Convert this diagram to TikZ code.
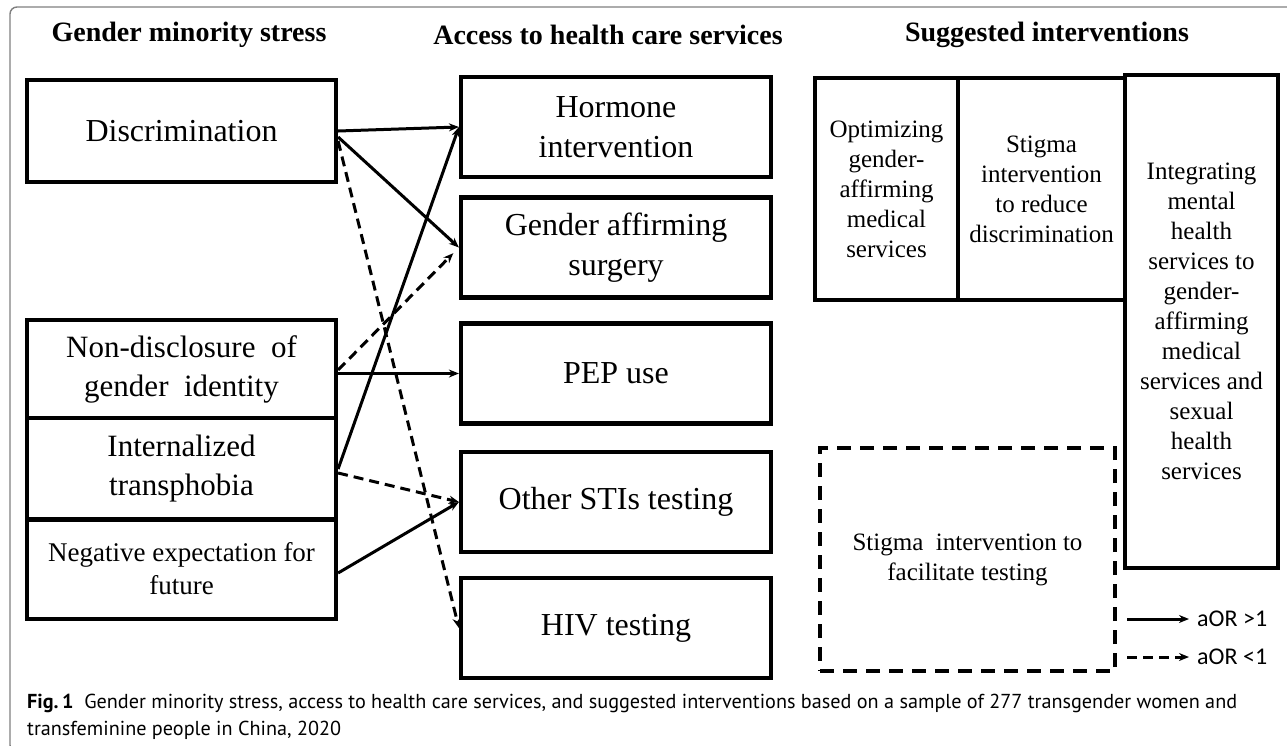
\documentclass[tikz,border=0pt]{standalone}
\usepackage{fontspec}
\setmainfont{Liberation Serif}
\newfontfamily\capfont{PT Sans}
\newfontfamily\keyfont{Carlito}
\usetikzlibrary{arrows.meta}

\begin{document}
\begin{tikzpicture}[x=1pt, y=-1pt,
    every node/.style={inner sep=0pt, align=center},
    stressbox/.style={draw, line width=4.2pt, minimum width=309pt},
    servbox/.style={draw, line width=4.2pt, minimum width=310pt, minimum height=100pt, font=\fontsize{32}{40}\selectfont},
    ivbox/.style={draw, line width=3.6pt, font=\fontsize{25}{30}\selectfont},
    heading/.style={font=\fontsize{28}{32}\selectfont\bfseries},
    keytext/.style={font=\fontsize{24}{28}\selectfont\keyfont},
    aorhigh/.style={-{Stealth[length=10pt,width=8pt]}, line width=3pt},
    aorlow/.style={aorhigh, dash pattern=on 10pt off 6pt}]
  \useasboundingbox (0,0) rectangle (1287,745);
  \draw[black!50, line width=1.4pt, rounded corners=7pt] (1300,7) -- (10,7) -- (10,752) -- (30,752);
  \node[heading] (hstress) at (189,35) {Gender minority stress};
  \node[heading] (haccess) at (608,35) {Access to health care services};
  \node[heading] (hinterv) at (1047,35) {Suggested interventions};
  \node[stressbox, minimum height=102pt, font=\fontsize{32}{39}\selectfont] (disc) at (181.5,131) {Discrimination};
  \node[stressbox, minimum height=98pt, font=\fontsize{31}{39}\selectfont] (nond) at (181.5,369) {Non-disclosure\ \ of\\gender\ \ identity};
  \node[stressbox, minimum height=102pt, font=\fontsize{31}{39}\selectfont] (intl) at (181.5,469) {Internalized\\transphobia};
  \node[stressbox, minimum height=100pt, font=\fontsize{27}{33}\selectfont] (nege) at (181.5,569) {Negative expectation for\\future};
  \node[servbox] (horm) at (616,127) {Hormone\\intervention};
  \node[servbox] (surg) at (616,247.5) {Gender affirming\\surgery};
  \node[servbox] (pep) at (616,373.5) {PEP use};
  \node[servbox] (stis) at (616,502) {Other STIs testing};
  \node[servbox] (hiv) at (616,628) {HIV testing};
  \node[ivbox, minimum width=143pt, minimum height=222pt] (optm) at (886.5,189) {Optimizing\\gender-\\affirming\\medical\\services};
  \node[ivbox, minimum width=167pt, minimum height=222pt] (stig) at (1041.5,189) {Stigma\\intervention\\to reduce\\discrimination};
  \node[ivbox, minimum width=153pt, minimum height=493pt] (intg) at (1201.5,321.5) {Integrating\\mental\\health\\services to\\gender-\\affirming\\medical\\services and\\sexual\\health\\services};
  \node[ivbox, dash pattern=on 14pt off 9pt, minimum width=295pt, minimum height=223pt] (facl) at (967.5,559.5) {Stigma\ \ intervention to\\facilitate testing};
  \draw[aorhigh] (disc.east) -- (horm.west);
  \draw[aorhigh] ([yshift=-6pt]disc.east) -- (surg.west);
  \draw[aorlow] ([yshift=-10pt]disc.east) -- (hiv.west);
  \draw[aorhigh] (nond.east |- pep.west) -- (pep.west);
  \draw[aorlow, shorten >=8pt] ([yshift=-1pt]nond.east) -- (surg.west);
  \draw[aorhigh] (intl.east) -- (horm.west);
  \draw[aorlow] ([yshift=-4pt]intl.east) -- (stis.west);
  \draw[aorhigh] ([yshift=-4pt]nege.east) -- (stis.west);
  \node[keytext, anchor=west] (khigh) at (1197,619) {aOR >1};
  \node[keytext, anchor=west] (klow) at (1197,657) {aOR <1};
  \coordinate (khighstart) at (1127,619);
  \coordinate (klowstart) at (1127,657);
  \draw[aorhigh] (khighstart) -- ([xshift=-8pt]khigh.west);
  \draw[aorlow] (klowstart) -- ([xshift=-8pt]klow.west);
  \node[anchor=north west, align=left, font=\fontsize{20.2}{27}\selectfont\capfont] (capt) at (27,694) {{\bfseries Fig.\,1}\ \ Gender minority stress, access to health care services, and suggested interventions based on a sample of 277 transgender women and\\transfeminine people in China, 2020};
\end{tikzpicture}
\end{document}
